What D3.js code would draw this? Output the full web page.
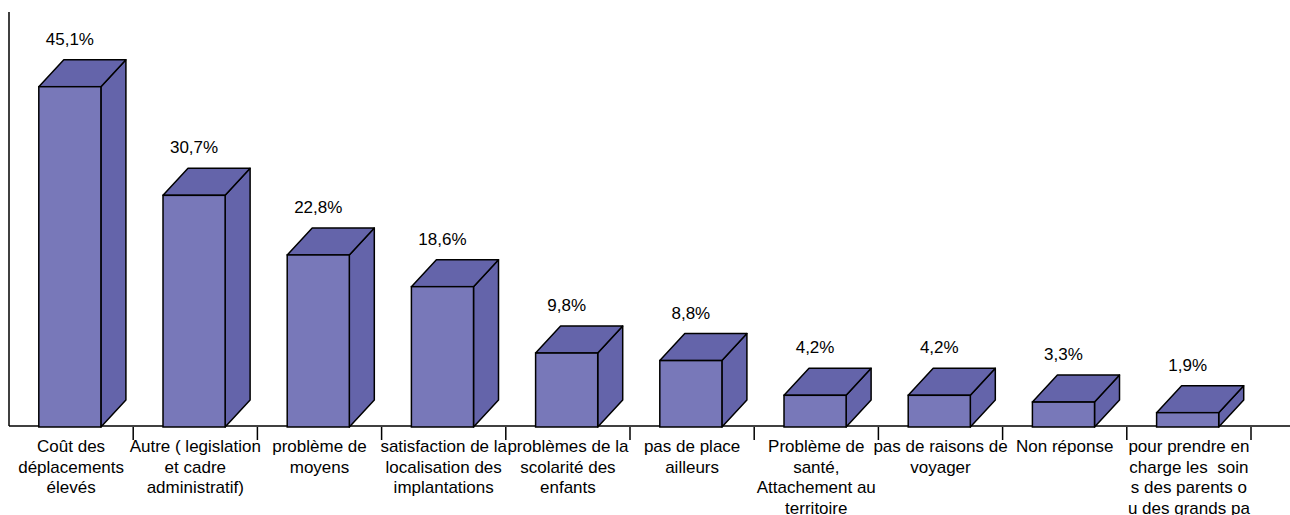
<!DOCTYPE html>
<html>
<head>
<meta charset="utf-8">
<script src="https://cdn.jsdelivr.net/npm/d3@7"></script>
<style>
  html, body { margin: 0; padding: 0; background: #fff; }
  svg { display: block; }
  text { font-family: "Liberation Sans", Arial, sans-serif; fill: #000; }
</style>
</head>
<body>
<svg id="chart" width="1290" height="515"></svg>
<script>
// category labels, one array of lines per category (as wrapped in the picture)
const categories = [
  ['Coût des', 'déplacements', 'élevés'],
  ['Autre ( legislation', 'et cadre', 'administratif)'],
  ['problème de', 'moyens'],
  ['satisfaction de la', 'localisation des', 'implantations'],
  ['problèmes de la', 'scolarité des', 'enfants'],
  ['pas de place', 'ailleurs'],
  ['Problème de', 'santé,', 'Attachement au', 'territoire'],
  ['pas de raisons de', 'voyager'],
  ['Non réponse'],
  ['pour prendre en', 'charge les  soin', 's des parents o', 'u des grands pa']
];
const values = [45.1, 30.7, 22.8, 18.6, 9.8, 8.8, 4.2, 4.2, 3.3, 1.9];
const valueLabels = ['45,1%', '30,7%', '22,8%', '18,6%', '9,8%', '8,8%', '4,2%', '4,2%', '3,3%', '1,9%'];

const svg = d3.select('#chart');
const width = 1290;
const axisX = 9;
const baseY = 427;
const depthX = 25, depthY = 27;

const keys = categories.map((d, i) => i);

const x = d3.scaleBand()
  .domain(keys)
  .range([axisX, axisX + 124.2 * keys.length])
  .paddingInner(0).paddingOuter(0);

const y = d3.scaleLinear()
  .domain([0, 55])
  .range([baseY, 12]);

const frontColour = '#7878b9';
const darkColour = '#6464aa';

// axes lines
svg.append('line')
  .attr('x1', axisX).attr('x2', axisX)
  .attr('y1', y(55)).attr('y2', baseY - 1)
  .attr('stroke', '#000').attr('stroke-width', 1.5);

svg.append('line')
  .attr('x1', axisX).attr('x2', width)
  .attr('y1', baseY - 1).attr('y2', baseY - 1)
  .attr('stroke', '#000').attr('stroke-width', 1.5);

// category boundary ticks
svg.append('g')
  .selectAll('line')
  .data(keys)
  .join('line')
  .attr('x1', d => x(d) + x.bandwidth())
  .attr('x2', d => x(d) + x.bandwidth())
  .attr('y1', baseY)
  .attr('y2', baseY + 13)
  .attr('stroke', '#000').attr('stroke-width', 1.5);

// 3D bars
const barW = x.bandwidth() * 0.5;
const barOff = x.bandwidth() * 0.24;

const bars = svg.append('g')
  .selectAll('g')
  .data(keys)
  .join('g');

bars.append('path') // side face
  .attr('d', d => {
    const x1 = x(d) + barOff + barW, yt = y(values[d]);
    return `M${x1},${baseY}L${x1 + depthX},${baseY - depthY}L${x1 + depthX},${yt - depthY}L${x1},${yt}Z`;
  })
  .attr('fill', darkColour).attr('stroke', '#000').attr('stroke-width', 1.5)
  .attr('stroke-linejoin', 'round');

bars.append('path') // top face
  .attr('d', d => {
    const x0 = x(d) + barOff, x1 = x0 + barW, yt = y(values[d]);
    return `M${x0},${yt}L${x0 + depthX},${yt - depthY}L${x1 + depthX},${yt - depthY}L${x1},${yt}Z`;
  })
  .attr('fill', darkColour).attr('stroke', '#000').attr('stroke-width', 1.5)
  .attr('stroke-linejoin', 'round');

bars.append('rect') // front face
  .attr('x', d => x(d) + barOff)
  .attr('y', d => y(values[d]))
  .attr('width', barW)
  .attr('height', d => baseY - y(values[d]))
  .attr('fill', frontColour).attr('stroke', '#000').attr('stroke-width', 1.5);

bars.append('text')
  .attr('x', d => x(d) + barOff + barW / 2)
  .attr('y', d => y(values[d]) - depthY - 15)
  .attr('text-anchor', 'middle')
  .attr('font-size', '17px')
  .text(d => valueLabels[d]);

// category labels
const labels = svg.append('g')
  .selectAll('text')
  .data(keys)
  .join('text')
  .attr('x', d => x(d) + x.bandwidth() / 2)
  .attr('y', 452)
  .attr('text-anchor', 'middle')
  .attr('font-size', '17px');

labels.selectAll('tspan')
  .data(d => categories[d].map(line => ({ line, cx: x(d) + x.bandwidth() / 2 })))
  .join('tspan')
  .attr('x', d => d.cx)
  .attr('dy', (d, i) => i === 0 ? 0 : 20.6)
  .style('white-space', 'pre')
  .text(d => d.line);
</script>
</body>
</html>
